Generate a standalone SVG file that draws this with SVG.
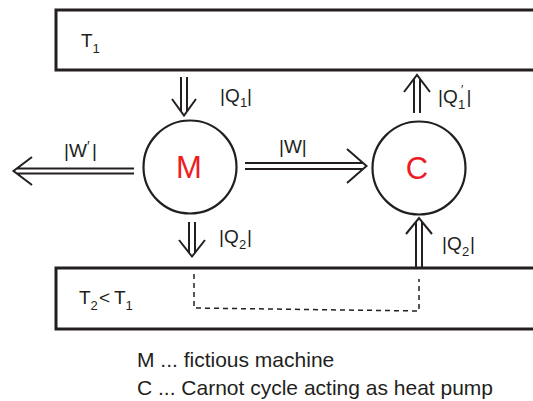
<svg xmlns="http://www.w3.org/2000/svg" width="533" height="401" viewBox="0 0 533 401">
<style>
.box{fill:none;stroke:#231f20;stroke-width:3}
.node{fill:none;stroke:#231f20;stroke-width:2.2}
.ln{stroke:#231f20;stroke-width:2;fill:none}
.dash{stroke:#231f20;stroke-width:1.5;fill:none;stroke-dasharray:5 4}
.t{font-family:"Liberation Sans",Arial,sans-serif;fill:#231f20;font-size:19px}
.big{font-family:"Liberation Sans",Arial,sans-serif;font-size:31px;fill:#ed1c24;text-anchor:middle}
.cap{font-family:"Liberation Sans",Arial,sans-serif;fill:#231f20;font-size:21px}
</style>
<g id="reservoir-T1">
<rect class="box" x="56" y="10" width="500" height="60"/>
<text class="t" x="81" y="47" font-size="20">T<tspan font-size="13" dy="6">1</tspan></text>
</g>
<g id="reservoir-T2">
<rect class="box" x="56" y="268" width="500" height="61"/>
<text class="t" font-size="20"><tspan x="79" y="304">T</tspan><tspan x="90.5" y="310" font-size="13">2</tspan><tspan x="99" y="304">&lt;</tspan><tspan x="114" y="304">T</tspan><tspan x="125.5" y="310" font-size="13">1</tspan></text>
</g>
<g id="node-M">
<circle class="node" cx="190" cy="167" r="46.5"/>
<text class="big" x="189" y="178">M</text>
</g>
<g id="node-C">
<circle class="node" cx="419" cy="168" r="46.5"/>
<text class="big" x="417" y="179">C</text>
</g>
<g id="connectors">
<path class="ln" d="M181 77V112M187 77V112M172 99L184 115.5L196 99"/>
<path class="ln" d="M189 222V253M195 222V253M179 240L192 256.5L205 240"/>
<path class="ln" d="M414 113V79M420 113V79M404 92L417 75L430 92"/>
<path class="ln" d="M416 268V222M422 268V222M406 234L419 218L432 234"/>
<path class="ln" d="M245 163H363M245 169H363M347 149L366.5 166L347 183"/>
<path class="ln" d="M134 168.5H17M134 173.5H17M32 157L13.5 171L32 185"/>
<path class="dash" d="M194 274V308L419 311V279"/>
</g>
<g id="labels">
<text class="t"><tspan x="220" y="102">|Q</tspan><tspan x="240" y="107" font-size="13">1</tspan><tspan x="247" y="102">|</tspan></text>
<text class="t"><tspan x="438" y="103">|Q</tspan><tspan x="461" y="94" font-size="12">′</tspan><tspan x="458" y="109" font-size="13">1</tspan><tspan x="466.5" y="103">|</tspan></text>
<text class="t"><tspan x="219" y="243">|Q</tspan><tspan x="239" y="249" font-size="13">2</tspan><tspan x="247" y="243">|</tspan></text>
<text class="t"><tspan x="442" y="250">|Q</tspan><tspan x="462" y="256" font-size="13">2</tspan><tspan x="470" y="250">|</tspan></text>
<text class="t"><tspan x="64" y="157">|W</tspan><tspan x="87" y="151" font-size="14">′</tspan><tspan x="92" y="157">|</tspan></text>
<text class="t" x="279" y="153">|W|</text>
</g>
<g id="legend">
<text class="cap" x="137" y="367">M ... fictious machine</text>
<text class="cap" x="137" y="395">C ... Carnot cycle acting as heat pump</text>
</g>
</svg>
